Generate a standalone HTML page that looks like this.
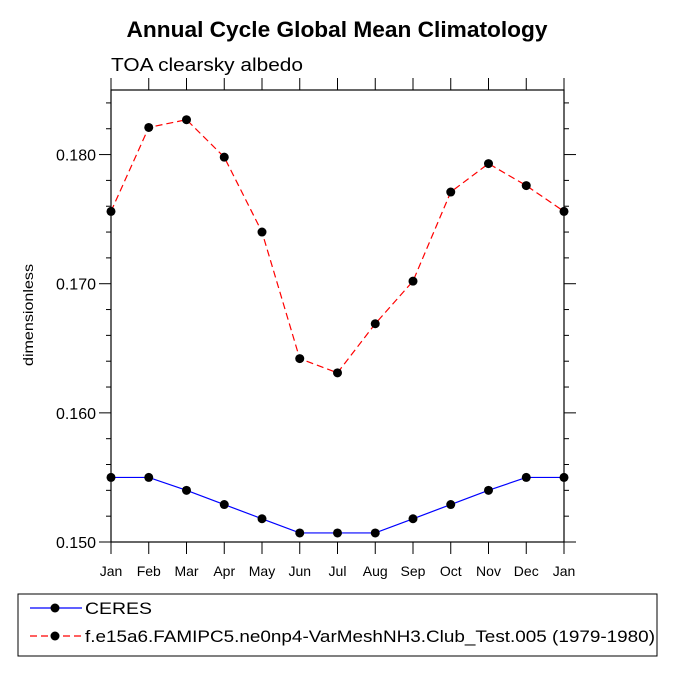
<!DOCTYPE html>
<html><head><meta charset="utf-8"><style>
body{margin:0;background:#fff;}
svg text{font-family:"Liberation Sans",sans-serif;}
</style></head><body>
<svg id="chart" width="675" height="675" viewBox="0 0 675 675">
<text x="337" y="37" text-anchor="middle" font-size="22" font-weight="bold" textLength="421" lengthAdjust="spacingAndGlyphs">Annual Cycle Global Mean Climatology</text>
<text x="111" y="71" font-size="18" textLength="192" lengthAdjust="spacingAndGlyphs">TOA clearsky albedo</text>
<text transform="translate(33,315) rotate(-90)" text-anchor="middle" font-size="14" textLength="102" lengthAdjust="spacingAndGlyphs">dimensionless</text>
<g id="axes"></g>
<g id="series"></g>
<g>
<rect x="18" y="594" width="639" height="62" fill="none" stroke="#000" stroke-width="1"/>
<g>
<line x1="30" y1="608" x2="82" y2="608" stroke="#0000ff" stroke-width="1.2"/>
<circle cx="55" cy="608" r="4.5" fill="#000"/>
<text x="85" y="614" font-size="17" textLength="67" lengthAdjust="spacingAndGlyphs">CERES</text></g>
<g>
<line x1="30" y1="636" x2="82" y2="636" stroke="#ff0000" stroke-width="1.2" stroke-dasharray="7,4"/>
<circle cx="55" cy="636" r="4.5" fill="#000"/>
<text x="85" y="642" font-size="17" textLength="570" lengthAdjust="spacingAndGlyphs">f.e15a6.FAMIPC5.ne0np4-VarMeshNH3.Club_Test.005 (1979-1980)</text></g>
</g>
</svg>
<script>
const months=["Jan","Feb","Mar","Apr","May","Jun","Jul","Aug","Sep","Oct","Nov","Dec","Jan"];
const ceres=[0.1550,0.1550,0.1540,0.1529,0.1518,0.1507,0.1507,0.1507,0.1518,0.1529,0.1540,0.1550,0.1550];
const model=[0.1756,0.1821,0.1827,0.1798,0.1740,0.1642,0.1631,0.1669,0.1702,0.1771,0.1793,0.1776,0.1756];
const yTicks=[0.150,0.160,0.170,0.180];
const yTickLabels=["0.150","0.160","0.170","0.180"];
const L=111,R=564,T=90,B=542,ymin=0.150,ymax=0.185;
const NS="http://www.w3.org/2000/svg";
const xs=i=>L+(R-L)*i/(months.length-1);
const ys=v=>B-(v-ymin)/(ymax-ymin)*(B-T);
function mk(tag,attrs,parent){const e=document.createElementNS(NS,tag);for(const k in attrs)e.setAttribute(k,attrs[k]);parent.appendChild(e);return e;}
const ax=document.getElementById('axes');
const frame=mk('rect',{x:L,y:T,width:R-L,height:B-T,fill:'none',stroke:'#000','stroke-width':1.2},ax);


months.forEach((m,i)=>{
  const x=xs(i);
  mk('line',{x1:x,y1:B,x2:x,y2:B+12,stroke:'#000'},ax);
  mk('line',{x1:x,y1:T,x2:x,y2:T-12,stroke:'#000'},ax);
  const t=mk('text',{x:x,y:B+34,'text-anchor':'middle','font-size':14},ax);
  t.textContent=m;
  
  
});
for(let k=0;k<=17;k++){
  const v=ymin+k*0.002;const y=ys(v);const major=(k%5===0);const len=major?12:5;
  mk('line',{x1:L,y1:y,x2:L-len,y2:y,stroke:'#000'},ax);
  mk('line',{x1:R,y1:y,x2:R+len,y2:y,stroke:'#000'},ax);
}
yTicks.forEach((v,i)=>{
  const t=mk('text',{x:96,y:ys(v)+6,'text-anchor':'end','font-size':16},ax);
  t.textContent=yTickLabels[i];
  
  
});
const sg=document.getElementById('series');
function drawSeries(vals,color,dash,name){
  const g=mk('g',{},sg);
  
  
  const p=mk('polyline',{points:vals.map((v,i)=>xs(i)+','+ys(v)).join(' '),fill:'none',stroke:color,'stroke-width':1.2,'stroke-dasharray':dash},g);
  
  
  vals.forEach((v,i)=>{const c=mk('circle',{cx:xs(i),cy:ys(v),r:4.5,fill:'#000'},g);
    
    });
}
drawSeries(ceres,'#0000ff','none','ceres-series');
drawSeries(model,'#ff0000','7,4','model-series');
</script>
</body></html>
